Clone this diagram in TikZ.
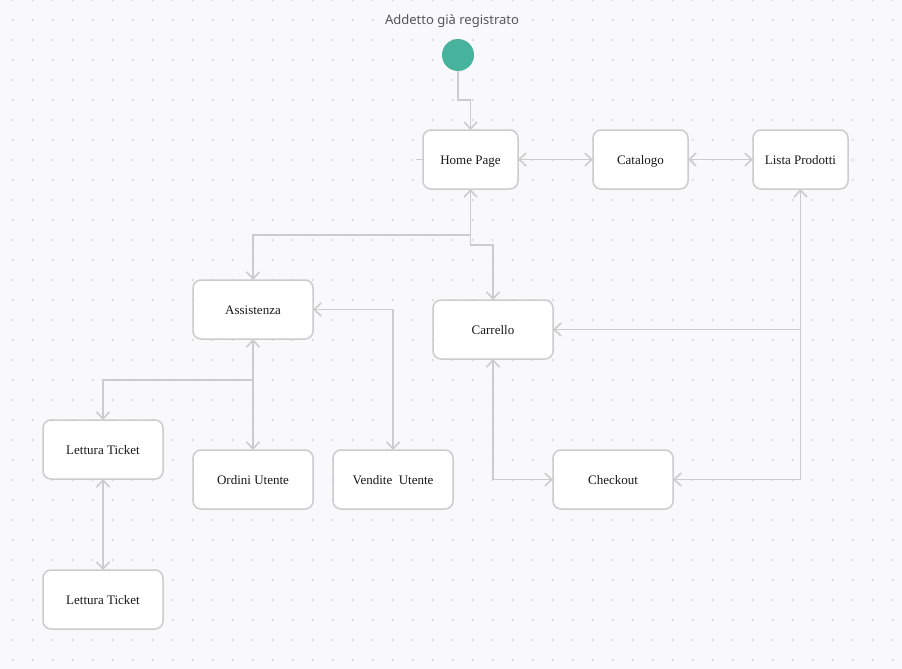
\documentclass[tikz,border=0pt]{standalone}
\usepackage{fontspec}
\setmainfont{Liberation Serif}
\newfontfamily\labelsans{Noto Sans}
\usetikzlibrary{arrows.meta}
\definecolor{canvas}{HTML}{F9F9FB}
\definecolor{griddot}{HTML}{D4D4D8}
\definecolor{wire}{HTML}{CCCCCC}
\definecolor{starttint}{HTML}{47B39C}
\definecolor{titlegray}{HTML}{555555}
\tikzset{
  state/.style={draw=wire, line width=1.5pt, fill=white, rounded corners=8pt,
    minimum width=120pt, minimum height=59pt, inner sep=0pt, outer sep=0pt,
    text height=9.6pt, text depth=0pt,
    font=\fontsize{13}{15}\selectfont, text=black!90},
  narrow/.style={minimum width=95pt},
  wireline/.style={draw=wire, line width=1.6pt},
  arr/.style={wireline, -{Straight Barb[length=7pt,width=13pt]}},
  biarr/.style={wireline, {Straight Barb[length=7pt,width=13pt]}-{Straight Barb[length=7pt,width=13pt]}},
}
\begin{document}
\begin{tikzpicture}[x=1pt, y=-1pt]
  % canvas and dotted grid
  \fill[canvas] (0,0) rectangle (902,669);
  \useasboundingbox (0,0) rectangle (902,669);
  \foreach \i in {0,...,44}
    \foreach \j in {0,...,33}
      \fill[griddot] (12.7+20*\i, 20*\j) circle (1.1pt);

  % title and initial state
  \node[font=\labelsans\fontsize{13}{15}\selectfont, text=titlegray,
        text height=9.5pt, text depth=0pt, inner sep=0pt] (title) at (452,19.5) {Addetto già registrato};
  \node[circle, fill=starttint, minimum size=32pt, inner sep=0pt, outer sep=0pt] (start) at (458,55) {};

  % states
  \node[state, narrow] (home)  at (470.5,159.5) {Home Page};
  \node[state, narrow] (cat)   at (640.5,159.5) {Catalogo};
  \node[state, narrow] (lista) at (800.5,159.5) {Lista Prodotti};
  \node[state] (assist) at (253,309.5) {Assistenza};
  \node[state] (carr)   at (493,329.5) {Carrello};
  \node[state] (lt1)    at (103,449.5) {Lettura Ticket};
  \node[state] (ordini) at (253,479.5) {Ordini Utente};
  \node[state] (vend)   at (393,479.5) {Vendite\ \ Utente};
  \node[state] (check)  at (613,479.5) {Checkout};
  \node[state] (lt2)    at (103,599.5) {Lettura Ticket};

  % transitions
  \coordinate (stub) at (416,159.5);
  \draw[wireline] (stub) -- (home.west);
  \draw[arr] (start.south) -- (start.south |- 0,100) -| (home.north);
  \draw[biarr] (home) -- (cat);
  \draw[biarr] (cat) -- (lista);
  \draw[biarr] (home.south) -- ++(0,46) -| (assist.north);
  \draw[arr] (home.south) -- ++(0,56) -| (carr.north);
  \draw[biarr] (assist.east) -| (vend.north);
  \draw[biarr] (assist.south) -- (ordini.north);
  \draw[arr] (assist.south) -- ++(0,41) -| (lt1.north);
  \draw[biarr] (lt1.south) -- (lt2.north);
  \draw[biarr] (lista.south) |- (carr.east);
  \draw[arr] (lista.south) |- (check.east);
  \draw[biarr] (carr.south) |- (check.west);
\end{tikzpicture}
\end{document}
